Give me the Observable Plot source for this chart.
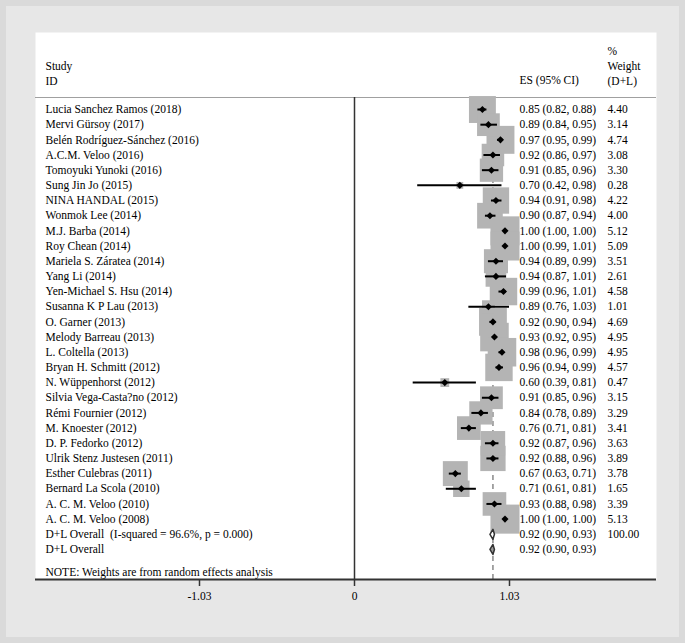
<!DOCTYPE html>
<html>
<head>
<meta charset="utf-8">
<script src="https://cdn.jsdelivr.net/npm/d3@7"></script>
<script src="https://cdn.jsdelivr.net/npm/@observablehq/plot@0.6"></script>
<style>
  html, body { margin: 0; padding: 0; width: 685px; height: 643px; overflow: hidden; }
  #bg { position: absolute; left: 0; top: 0; width: 685px; height: 643px; box-sizing: border-box;
        background: #e7e7e7; border: 6px solid #dadada; }
  #chart { position: absolute; left: 0; top: 0; }
</style>
</head>
<body>
<div id="bg"></div>
<div id="chart"></div>
<script>
// ---- data ----
const studies = [
  "Lucia Sanchez Ramos (2018)", "Mervi Gürsoy (2017)", "Belén Rodríguez-Sánchez (2016)",
  "A.C.M. Veloo (2016)", "Tomoyuki Yunoki (2016)", "Sung Jin Jo (2015)", "NINA HANDAL (2015)",
  "Wonmok Lee (2014)", "M.J. Barba (2014)", "Roy Chean (2014)", "Mariela S. Záratea (2014)",
  "Yang Li (2014)", "Yen-Michael S. Hsu (2014)", "Susanna K P Lau (2013)", "O. Garner (2013)",
  "Melody Barreau (2013)", "L. Coltella (2013)", "Bryan H. Schmitt (2012)", "N. Wüppenhorst (2012)",
  "Silvia Vega-Casta?no (2012)", "Rémi Fournier (2012)", "M. Knoester (2012)", "D. P. Fedorko (2012)",
  "Ulrik Stenz Justesen (2011)", "Esther Culebras (2011)", "Bernard La Scola (2010)",
  "A. C. M. Veloo (2010)", "A. C. M. Veloo (2008)"
];
const es = [0.85, 0.89, 0.97, 0.92, 0.91, 0.70, 0.94, 0.90, 1.00, 1.00, 0.94, 0.94, 0.99, 0.89,
            0.92, 0.93, 0.98, 0.96, 0.60, 0.91, 0.84, 0.76, 0.92, 0.92, 0.67, 0.71, 0.93, 1.00];
const lo = [0.82, 0.84, 0.95, 0.86, 0.85, 0.42, 0.91, 0.87, 1.00, 0.99, 0.89, 0.87, 0.96, 0.76,
            0.90, 0.92, 0.96, 0.94, 0.39, 0.85, 0.78, 0.71, 0.87, 0.88, 0.63, 0.61, 0.88, 1.00];
const hi = [0.88, 0.95, 0.99, 0.97, 0.96, 0.98, 0.98, 0.94, 1.00, 1.01, 0.99, 1.01, 1.01, 1.03,
            0.94, 0.95, 0.99, 0.99, 0.81, 0.96, 0.89, 0.81, 0.96, 0.96, 0.71, 0.81, 0.98, 1.00];
const weight = [4.40, 3.14, 4.74, 3.08, 3.30, 0.28, 4.22, 4.00, 5.12, 5.09, 3.51, 2.61, 4.58, 1.01,
                4.69, 4.95, 4.95, 4.57, 0.47, 3.15, 3.29, 3.41, 3.63, 3.89, 3.78, 1.65, 3.39, 5.13];
const overallLabels = ["D+L Overall\u00a0 (I-squared = 96.6%, p = 0.000)", "D+L Overall"];
const overallES = [0.92, 0.92];
const overallLo = [0.90, 0.90];
const overallHi = [0.93, 0.93];
const overallWeight = [100.00, null];
const headerStudy = ["Study", "ID"];
const headerES = ["ES (95% CI)"];
const headerWeight = ["%", "Weight", "(D+L)"];
const noteText = "NOTE: Weights are from random effects analysis";
const xTicks = [-1.03, 0, 1.03];

// ---- tables ----
const studyRows = studies.map((s, i) => ({label: s, es: es[i], lo: lo[i], hi: hi[i], w: weight[i], row: i}));
const overallRows = overallLabels.map((s, j) => ({
  label: s, es: overallES[j], lo: overallLo[j], hi: overallHi[j], w: overallWeight[j], row: studies.length + j
}));
const allRows = studyRows.concat(overallRows);
const fmt = v => v.toFixed(2);
const esText = d => `${fmt(d.es)} (${fmt(d.lo)}, ${fmt(d.hi)})`;
const wText = d => d.w == null ? "" : fmt(d.w);

const dh = 0.33; // diamond half-height in rows
const diamondPts = overallRows.flatMap(d => [
  {x: d.lo, y: d.row, row: d.row}, {x: d.es, y: d.row - dh, row: d.row},
  {x: d.hi, y: d.row, row: d.row}, {x: d.es, y: d.row + dh, row: d.row},
  {x: d.lo, y: d.row, row: d.row}
]);

// ---- layout (scale domains chosen so 0 -> 354px, 1.03 -> 509px; rows 15.17px apart) ----
const pxPerUnit = (509 - 354) / 1.03;
const xDomain = [-(354 - 35) / pxPerUnit, (656 - 354) / pxPerUnit];
const rowPx = 15.171;
const yTop = -(109 - 32) / rowPx, yBottom = (579 - 109) / rowPx;
const headerLineRow = -(109 - 97) / rowPx;
const overall = overallES[0];

const font = "'Liberation Serif', 'Times New Roman', Times, serif";

const chart = Plot.plot({
  width: 685, height: 643,
  marginLeft: 35, marginRight: 29, marginTop: 32, marginBottom: 64,
  x: {domain: xDomain, label: null},
  y: {domain: [yBottom, yTop], axis: null, label: null},
  r: {type: "sqrt", domain: [0, 5.13], range: [0, 16.4]},
  style: {fontFamily: font, fontSize: "11.5px", background: "transparent", color: "black", overflow: "visible"},
  marks: [
    Plot.frame({fill: "white"}),
    Plot.ruleY([headerLineRow], {stroke: "#a0a0a0", strokeWidth: 1}),
    Plot.ruleX([0], {y1: headerLineRow, y2: yBottom, stroke: "#333", strokeWidth: 1.5}),
    Plot.ruleX([overall], {y1: headerLineRow, y2: yBottom, stroke: "#777", strokeWidth: 1.3, strokeDasharray: "5,4"}),
    Plot.dot(studyRows, {x: "es", y: "row", r: "w", symbol: "square", fill: "#b4b4b4", stroke: "none"}),
    Plot.ruleY(studyRows, {y: "row", x1: "lo", x2: "hi", stroke: "black", strokeWidth: 2}),
    Plot.dot(studyRows, {x: "es", y: "row", r: 3.2, symbol: "diamond2", fill: "black", stroke: "none"}),
    Plot.line(diamondPts.filter(d => d.row === overallRows[0].row), {x: "x", y: "y", fill: "white", stroke: "#333", strokeWidth: 1.5}),
    Plot.line(diamondPts.filter(d => d.row === overallRows[1].row), {x: "x", y: "y", fill: "#9a9a9a", stroke: "#333", strokeWidth: 1.5}),
    // study labels
    Plot.text(allRows, {y: "row", text: "label", frameAnchor: "left", dx: 10, textAnchor: "start", fill: "black"}),
    Plot.text(allRows, {y: "row", text: esText, frameAnchor: "left", dx: 484, textAnchor: "start", fill: "black"}),
    Plot.text(allRows, {y: "row", text: wText, frameAnchor: "left", dx: 572, textAnchor: "start", fill: "black"}),
    // headers
    Plot.text([headerStudy.join("\n")], {y: -2.41, frameAnchor: "left", dx: 10, textAnchor: "start", lineHeight: 1.3, fill: "black"}),
    Plot.text([headerES.join("\n")], {y: -1.91, frameAnchor: "left", dx: 484, textAnchor: "start", fill: "black"}),
    Plot.text([headerWeight.join("\n")], {y: -2.90, frameAnchor: "left", dx: 572, textAnchor: "start", lineHeight: 1.3, fill: "black"}),
    // note
    Plot.text([noteText], {y: 30.5, frameAnchor: "left", dx: 10, textAnchor: "start", fill: "black"}),
    // axis
    Plot.ruleY([yBottom], {stroke: "#333", strokeWidth: 2}),
    Plot.axisX(xTicks, {anchor: "bottom", label: null, tickSize: 7, tickPadding: 5, strokeWidth: 1.5, stroke: "#333",
      fill: "black", fontSize: 11.5, tickFormat: d => d === 0 ? "0" : d.toFixed(2)})
  ]
});
document.getElementById("chart").appendChild(chart);
</script>
</body>
</html>
